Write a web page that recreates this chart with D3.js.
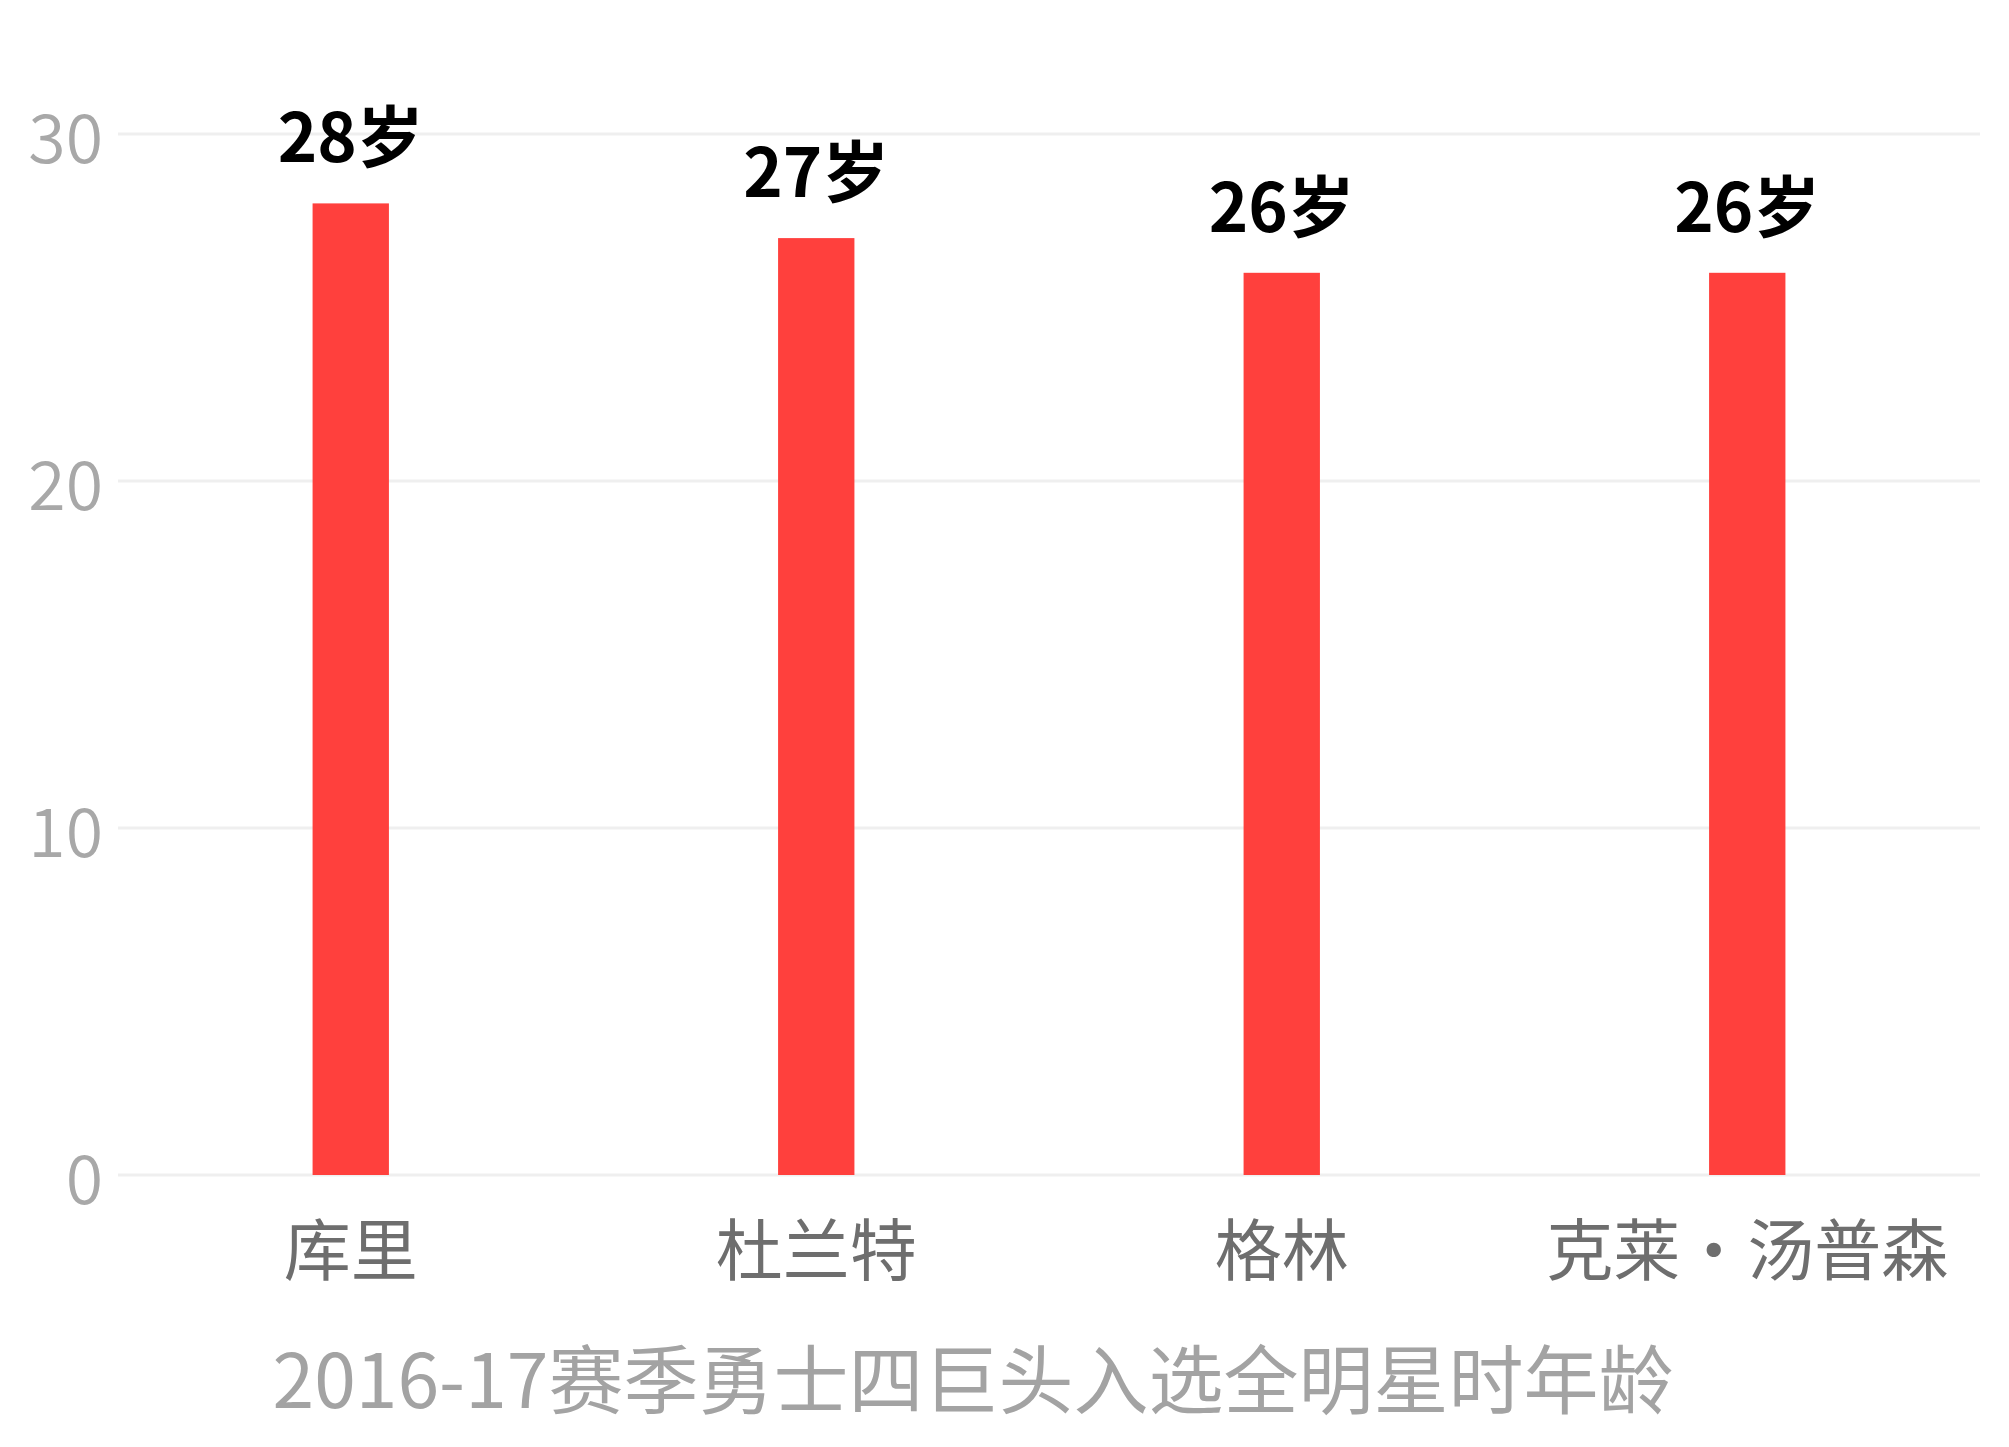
<!DOCTYPE html>
<html><head><meta charset="utf-8">
<script src="https://cdn.jsdelivr.net/npm/d3@7"></script>
<style>html,body{margin:0;padding:0;background:#fff;}</style>
</head><body>
<script>
const categories = ["库里", "杜兰特", "格林", "克莱・汤普森"];
const ages = [28, 27, 26, 26];
const valueLabels = ["28岁", "27岁", "26岁", "26岁"];
const yTicks = [0, 10, 20, 30];
const title = "2016-17赛季勇士四巨头入选全明星时年龄";

const W = 2009, H = 1447;
const font = '"Noto Sans CJK SC", "Noto Sans", sans-serif';
const svg = d3.select("body").append("svg").attr("width", W).attr("height", H)
  .style("font-family", font);

const x = d3.scaleBand().domain(categories).range([118, 1980]).padding(0);
const y = d3.scaleLinear().domain([0, 30]).range([1175, 134]);
const barW = x.bandwidth() * 0.164;

// gridlines
svg.append("g").selectAll("line").data(yTicks).join("line")
  .attr("x1", 118).attr("x2", 1980)
  .attr("y1", d => y(d)).attr("y2", d => y(d))
  .attr("stroke", "#efefef").attr("stroke-width", 3);

// y tick labels
svg.append("g").selectAll("text").data(yTicks).join("text")
  .attr("x", 103).attr("y", d => y(d) + 29)
  .attr("text-anchor", "end")
  .attr("fill", "#a8a8a8").attr("font-size", 68).attr("font-weight", 350)
  .text(d => d);

// bars
svg.append("g").selectAll("rect").data(ages).join("rect")
  .attr("x", (d, i) => x(categories[i]) + x.bandwidth() / 2 - barW / 2)
  .attr("y", d => y(d))
  .attr("width", barW)
  .attr("height", d => y(0) - y(d))
  .attr("fill", "#ff403d");

// value labels
svg.append("g").selectAll("text").data(ages).join("text")
  .attr("x", (d, i) => x(categories[i]) + x.bandwidth() / 2)
  .attr("y", d => y(d) - 41)
  .attr("text-anchor", "middle")
  .attr("fill", "#000").attr("font-size", 67).attr("font-weight", 700)
  .text((d, i) => valueLabels[i]);

// x category labels
svg.append("g").selectAll("text").data(categories).join("text")
  .attr("x", d => x(d) + x.bandwidth() / 2)
  .attr("y", 1275)
  .attr("text-anchor", "middle")
  .attr("fill", "#6e6e6e").attr("font-size", 67)
  .text(d => d);

// title
svg.append("text")
  .attr("x", 973).attr("y", 1408)
  .attr("text-anchor", "middle")
  .attr("fill", "#a3a3a3").attr("font-size", 75)
  .text(title);
</script>
</body></html>
